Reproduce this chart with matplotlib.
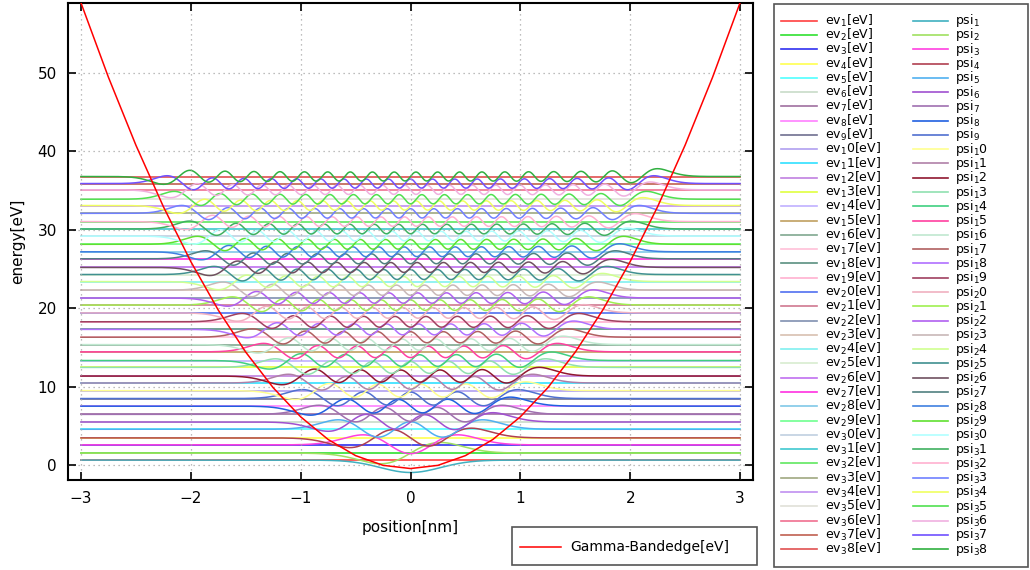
import numpy as np
import matplotlib
matplotlib.use('Agg')
import matplotlib.pyplot as plt
from matplotlib.lines import Line2D
from matplotlib.patches import Rectangle

# eigenvalues [eV]
ev = [0.63, 1.52, 2.57, 3.46, 4.56, 5.49, 6.46, 7.51, 8.48, 9.49,
      10.46, 11.35, 12.45, 13.33, 14.43, 15.36, 16.30, 17.30, 18.27, 19.40,
      20.40, 21.30, 22.30, 23.40, 24.30, 25.20, 26.30, 27.20, 28.15, 29.20,
      30.10, 31.05, 32.10, 33.10, 33.90, 35.10, 35.90, 36.80]

ev_colors = ['#ff4040', '#30e030', '#3030f0', '#ffff50', '#50ffff', '#c8dcc8',
             '#a070a0', '#ff80ff', '#707090', '#b0a0f0', '#30e0ff', '#c080e0',
             '#e0ff40', '#c0b0ff', '#c0a060', '#80a890', '#ffc0d8', '#5a9080',
             '#ffb0d0', '#5070f0', '#d07890', '#8090b0', '#d8c0b0', '#80f0f0',
             '#d8ecd0', '#c070f0', '#ff30e0', '#80c8e8', '#70ff90', '#c0d0e0',
             '#40c8d0', '#60e860', '#a0a880', '#c090f0', '#e0e0d8', '#f07090',
             '#c06050', '#e05050']

psi_colors = ['#40b0c0', '#a0e060', '#ff40e0', '#b04050', '#50b0f0', '#a050d0',
              '#a070b0', '#2060e0', '#5070d0', '#ffff90', '#b080a8', '#901830',
              '#90e0b0', '#40d080', '#ff40a0', '#c0e8d0', '#b06060', '#b070ff',
              '#a04060', '#f0b0c0', '#a0f050', '#b060f0', '#c8b8b8', '#d0ff90',
              '#409090', '#705060', '#508080', '#4080e0', '#60e030', '#b0ffff',
              '#40b060', '#ffb0d0', '#7080ff', '#f0ff60', '#50e050', '#f0b0e0',
              '#7050ff', '#30b040']

psi_sign = [-1, 1, 1, 1, 1, 1, 1, 1, 1, 1, 1, 1, 1, 1, 1, 1, 1, 1, 1,
            1, 1, 1, 1, 1, 1, 1, 1, 1, 1, 1, 1, 1, 1, 1, 1, 1, 1, 1]

# gamma band edge
edge_x = [-3.0, -2.75, -2.5, -2.25, -2.0, -1.75, -1.5, -1.25, -1.0, -0.75, -0.5, -0.25, 0.0,
          0.25, 0.5, 0.75, 1.0, 1.25, 1.5, 1.75, 2.0, 2.25, 2.5, 2.75, 3.0]
edge_v = [58.95, 49.46, 40.8, 32.96, 25.95, 19.76, 14.4, 9.86, 6.15, 3.26, 1.2, -0.04, -0.45,
          -0.04, 1.2, 3.26, 6.15, 9.86, 14.4, 19.76, 25.95, 32.96, 40.8, 49.46, 58.95]

# wavefunctions (oscillator states of the band edge above)
x = np.linspace(-3, 3, 1501)
curv = (edge_v[0] - min(edge_v)) / edge_x[0] ** 2
step = (ev[-1] - ev[0]) / (len(ev) - 1)
x0 = np.sqrt(step / (2 * curv))
xi = x / x0
h_prev = np.zeros_like(xi)
h = np.pi ** -0.25 * np.exp(-xi ** 2 / 2)
psi = []
for n in range(len(ev)):
    psi.append(h / np.sqrt(x0))
    h_next = np.sqrt(2.0 / (n + 1)) * xi * h - np.sqrt(n / (n + 1.0)) * h_prev
    h_prev, h = h, h_next
psi_scale = 1.1

W, H = 1030, 570
fig = plt.figure(figsize=(W / 100, H / 100), dpi=100)
ax = fig.add_axes([68 / W, 1 - 480 / H, (753 - 68) / W, (480 - 3) / H])

for e, c in zip(ev, ev_colors):
    ax.plot([-3, 3], [e, e], color=c, lw=1.2)
for e, p, s, c in zip(ev, psi, psi_sign, psi_colors):
    ax.plot(x, e + s * psi_scale * p, color=c, lw=1.1)
ax.plot(edge_x, edge_v, color='#ff0000', lw=1.1, zorder=5)

ax.set_xlim(-3.118, 3.118)
ax.set_ylim(-1.91, 58.93)
ax.set_xticks(np.arange(-3, 4, 1))
ax.set_yticks(np.arange(0, 60, 10))
ax.tick_params(direction='in', top=True, right=True, length=6, width=1.2,
               labelsize=11, pad=8)
for sp in ax.spines.values():
    sp.set_linewidth(1.5)
ax.grid(True, color='#a8a8a8', linestyle=(0, (1, 3)), lw=0.9)
ax.set_axisbelow(False)
ax.set_xlabel('position[nm]', fontsize=11, labelpad=10)
ax.set_ylabel('energy[eV]', fontsize=11, labelpad=9)


def lab(prefix, n, suffix):
    s = str(n)
    return prefix + '$_{' + s[0] + '}$' + s[1:] + suffix


# right legend box
fig.patches.append(Rectangle((774 / W, 1 - 567 / H), (1028 - 774) / W, (567 - 4) / H,
                             transform=fig.transFigure, fill=False,
                             edgecolor='#555555', lw=1.2))
for i in range(len(ev)):
    yy = 1 - (20.7 + i * 14.28) / H
    fig.lines.append(Line2D([781 / W, 817 / W], [yy, yy], transform=fig.transFigure,
                            color=ev_colors[i], lw=1.2))
    fig.text(825 / W, yy, lab('ev', i + 1, '[eV]'), fontsize=9, va='center')
    fig.lines.append(Line2D([913 / W, 948 / W], [yy, yy], transform=fig.transFigure,
                            color=psi_colors[i], lw=1.2))
    fig.text(955 / W, yy, lab('psi', i + 1, ''), fontsize=9, va='center')

# band edge legend box
fig.patches.append(Rectangle((512 / W, 1 - 565 / H), (757 - 512) / W, (565 - 527) / H,
                             transform=fig.transFigure, fill=False,
                             edgecolor='#555555', lw=1.2))
fig.lines.append(Line2D([520 / W, 561 / W], [1 - 546.5 / H, 1 - 546.5 / H],
                        transform=fig.transFigure, color='#ff0000', lw=1.1))
fig.text(570 / W, 1 - 546.5 / H, 'Gamma-Bandedge[eV]', fontsize=10, va='center')

fig.savefig('out.png', dpi=100)
